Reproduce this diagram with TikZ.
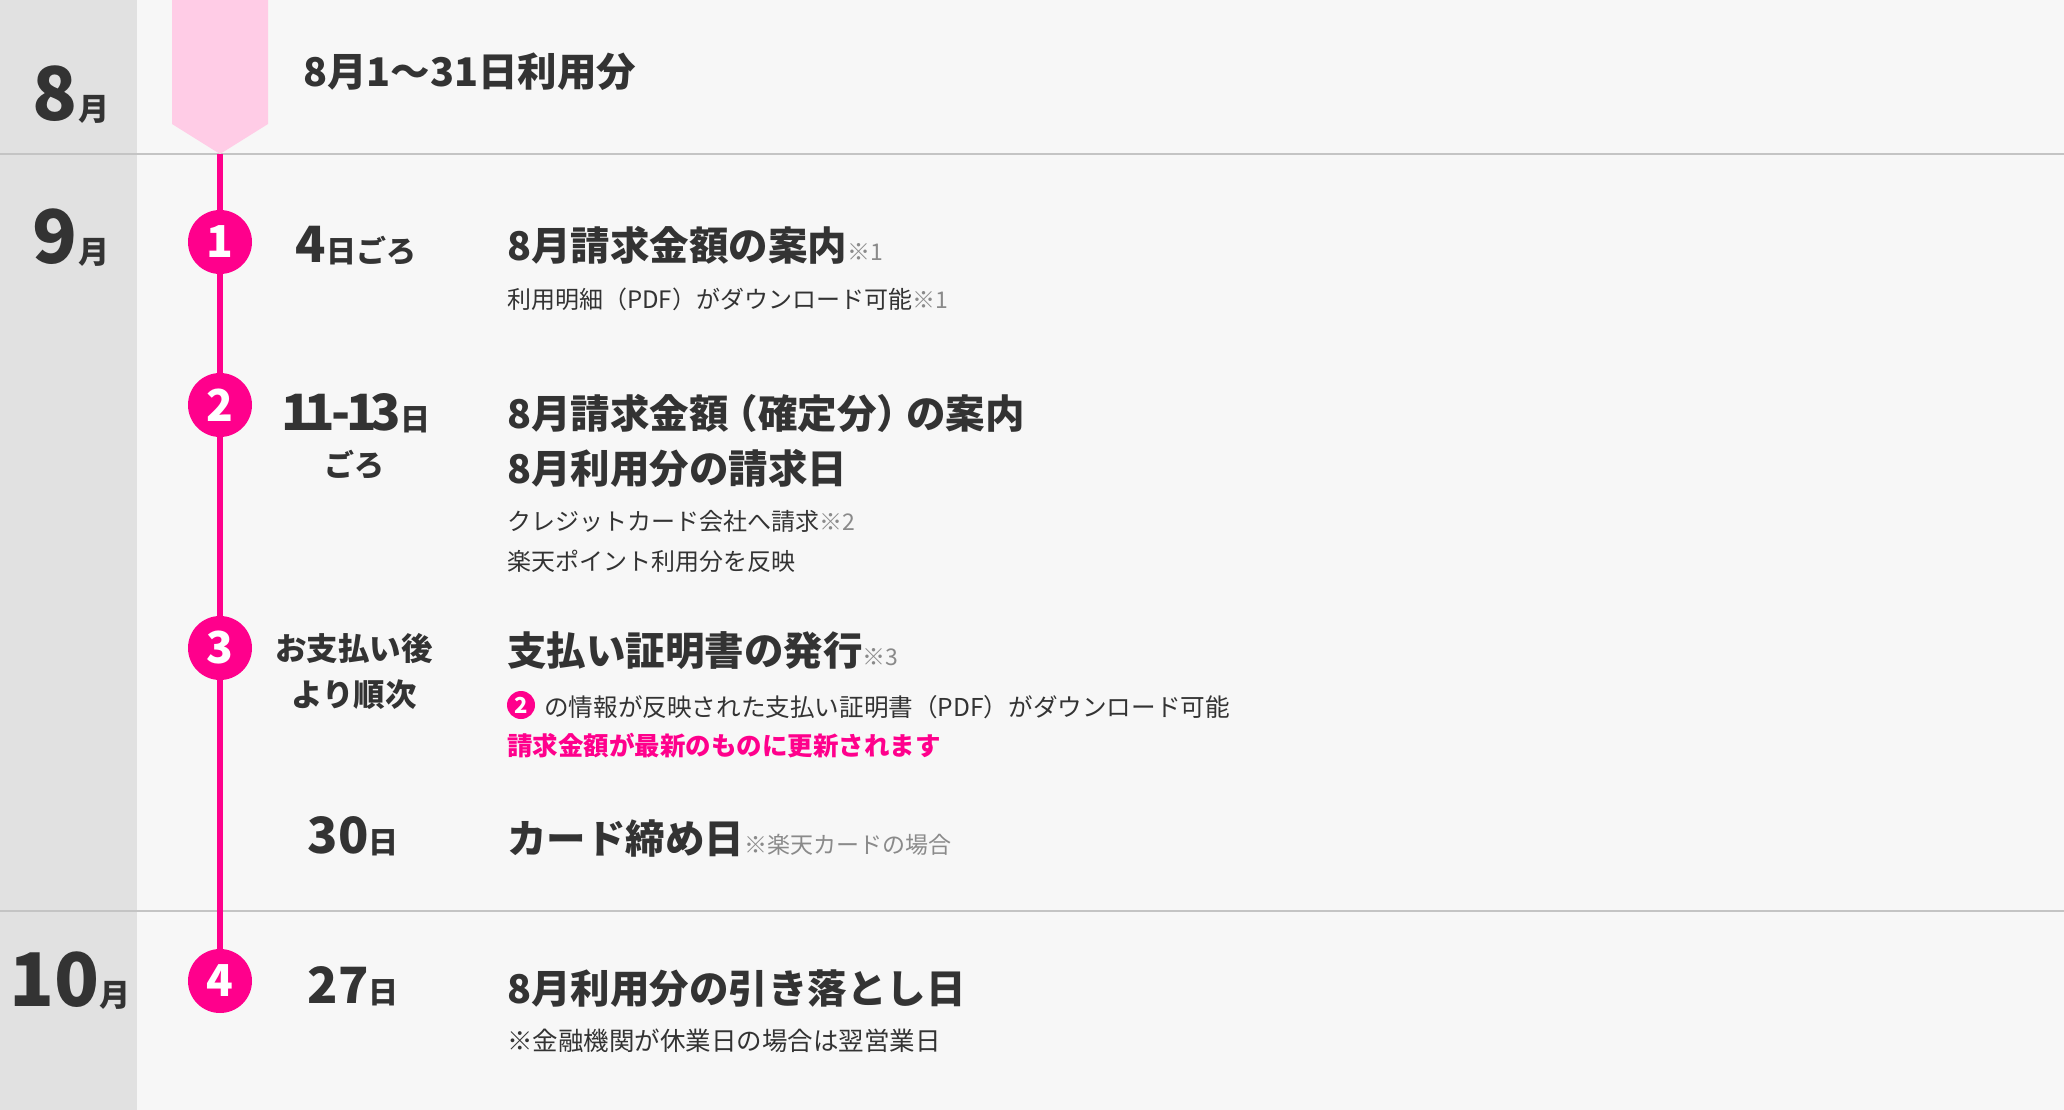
\documentclass[tikz,border=0pt]{standalone}
\usepackage{fontspec}
\setmainfont{Noto Sans CJK JP}

\definecolor{bgcol}{HTML}{F7F7F7}
\definecolor{colgray}{HTML}{E1E1E1}
\definecolor{sepgray}{HTML}{C4C4C4}
\definecolor{rpink}{HTML}{FF008C}
\definecolor{pinklight}{HTML}{FFCCE6}
\definecolor{ink}{HTML}{333333}
\definecolor{notegray}{HTML}{8A8A8A}

\newcommand\monthsz{\fontsize{74}{74}\selectfont\bfseries}
\newcommand\munitsz{\fontsize{31}{31}\selectfont\bfseries}
\newcommand\datesz{\fontsize{50}{50}\selectfont\bfseries\addfontfeatures{Numbers=Proportional}}
\newcommand\dunitsz{\fontsize{30}{30}\selectfont\bfseries}
\newcommand\headsz{\fontsize{39.5}{39.5}\selectfont\bfseries}
\newcommand\subsz{\fontsize{24}{24}\selectfont}
\newcommand\notesz{\fontsize{23}{23}\selectfont\mdseries}
\newcommand\mnote[1]{{\notesz\color{notegray}#1}}
\newcommand\lpar{\kern-10pt（}
\newcommand\rpar{）\kern-10pt}

\tikzset{
  monthlbl/.style={anchor=base, inner sep=0, text=ink},
  datelbl/.style={anchor=base, inner sep=0, text=ink},
  headlbl/.style={anchor=base west, inner sep=0, text=ink, font=\headsz},
  sublbl/.style={anchor=base west, inner sep=0, text=ink, font=\subsz},
  numdot/.style={circle, fill=rpink, text=white, minimum size=64pt, inner sep=0, font=\fontsize{44}{44}\selectfont\bfseries},
  minidot/.style={circle, fill=rpink, text=white, minimum size=28pt, inner sep=0, font=\fontsize{22}{22}\selectfont\bfseries},
  sepline/.style={sepgray, line width=2pt},
  pinkline/.style={rpink, line width=6pt}
}

\begin{document}
\begin{tikzpicture}[x=1pt, y=-1pt]

  \useasboundingbox (0,0) rectangle (2064,1110);
  \fill[bgcol] (0,0) rectangle (2064,1110);
  \fill[colgray] (0,0) rectangle (137,1110);

  \draw[sepline] (0,154) -- (2064,154);
  \draw[sepline] (0,911) -- (2064,911);

  \fill[pinklight] (172,0) -- (268,0) -- (268,124) -- (220,154) -- (172,124) -- cycle;
  \coordinate (tip) at (220,154);

  \node[numdot] (c1) at (220,242) {1};
  \node[numdot] (c2) at (220,405) {2};
  \node[numdot] (c3) at (220,648) {3};
  \node[numdot] (c4) at (220,981) {4};

  \draw[pinkline] (tip) -- (c1) -- (c2) -- (c3) -- (c4);

  \node[monthlbl] (m8) at (71,121) {\monthsz 8\munitsz 月};
  \node[monthlbl] (m9) at (71,263) {\monthsz 9\munitsz 月};
  \node[monthlbl] (m10) at (70,1006) {\monthsz 10\munitsz 月};

  \node[datelbl] (d1) at (356,262) {\datesz 4\dunitsz 日ごろ};
  \node[datelbl] (d2) at (356,430) {\datesz 1\kern-7pt 1\kern-4pt -\kern-4pt 1\kern-7pt 3\dunitsz 日};
  \node[datelbl] (d2b) at (354,476) {\dunitsz ごろ};
  \node[datelbl] (d3) at (354,660) {\fontsize{31.5}{31.5}\selectfont\bfseries お支払い後};
  \node[datelbl] (d3b) at (354,706) {\fontsize{31.5}{31.5}\selectfont\bfseries より順次};
  \node[datelbl] (d4) at (353,853) {\datesz 30\dunitsz 日};
  \node[datelbl] (d5) at (353,1003) {\datesz 27\dunitsz 日};

  \node[headlbl] (h0) at (303,87) {8月1〜31日利用分};

  \node[headlbl] (h1) at (507,260) {8月請求金額の案内\mnote{※1}};
  \node[sublbl] (s1) at (507,308) {利用明細（PDF）がダウンロード可能\mnote{※1}};

  \node[headlbl] (h2) at (507,428) {8月請求金額\lpar 確定分\rpar の案内};
  \node[headlbl] (h2b) at (507,483) {8月利用分の請求日};
  \node[sublbl] (s2) at (507,530) {クレジットカード会社へ請求\mnote{※2}};
  \node[sublbl] (s2b) at (507,570) {楽天ポイント利用分を反映};

  \node[headlbl] (h3) at (507,665) {支払い証明書の発行\mnote{※3}};
  \node[minidot] (ref2) at (521,705) {2};
  \node[sublbl, font=\fontsize{24.6}{24.6}\selectfont] (s3) at (544,716) {の情報が反映された支払い証明書（PDF）がダウンロード可能};
  \node[sublbl, text=rpink, font=\fontsize{25.5}{25.5}\selectfont\bfseries] (s3b) at (507,755) {請求金額が最新のものに更新されます};

  \node[headlbl] (h4) at (507,853) {カード締め日\mnote{※楽天カードの場合}};

  \node[headlbl] (h5) at (507,1003) {8月利用分の引き落とし日};
  \node[sublbl, font=\fontsize{25.5}{25.5}\selectfont] (s5) at (507,1050) {※金融機関が休業日の場合は翌営業日};

\end{tikzpicture}
\end{document}
